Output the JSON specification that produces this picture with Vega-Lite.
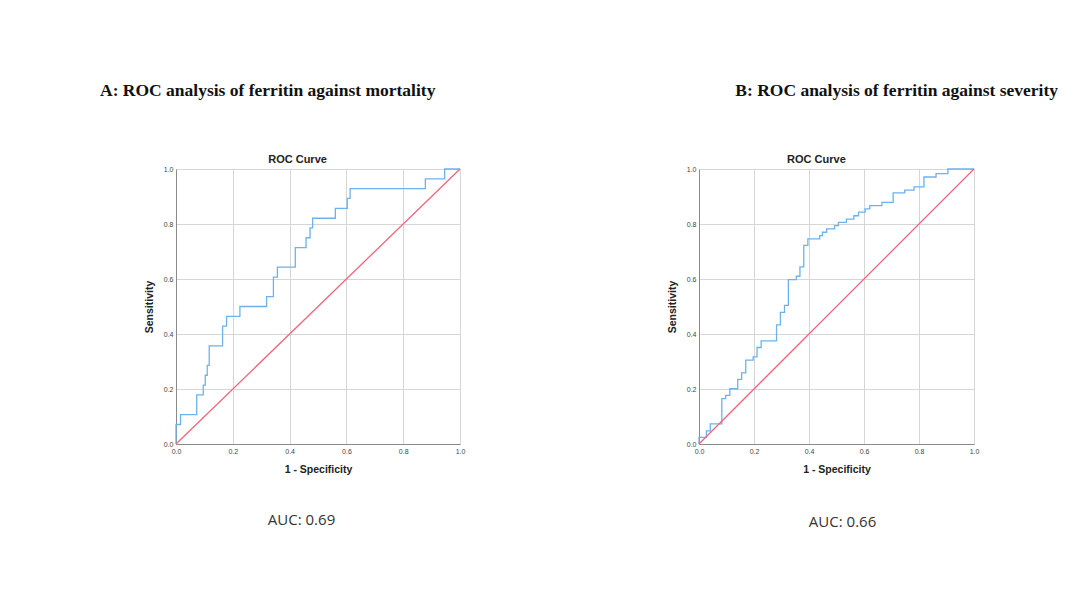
{
  "$schema": "https://vega.github.io/schema/vega-lite/v6.json",
  "autosize": {"type": "pad"},
  "padding": {"left": 100, "top": 81, "right": 0, "bottom": 0},
  "background": "white",
  "bounds": "flush",
  "spacing": 239,
  "datasets": {
    "curveA": [
      {"x": 0, "y": 0}, {"x": 0, "y": 0.071}, {"x": 0.016, "y": 0.107}, {"x": 0.073, "y": 0.179},
      {"x": 0.096, "y": 0.214}, {"x": 0.103, "y": 0.25}, {"x": 0.11, "y": 0.286}, {"x": 0.117, "y": 0.357},
      {"x": 0.164, "y": 0.429}, {"x": 0.178, "y": 0.464}, {"x": 0.225, "y": 0.5}, {"x": 0.319, "y": 0.536},
      {"x": 0.343, "y": 0.607}, {"x": 0.357, "y": 0.643}, {"x": 0.42, "y": 0.714}, {"x": 0.458, "y": 0.75},
      {"x": 0.472, "y": 0.786}, {"x": 0.481, "y": 0.821}, {"x": 0.561, "y": 0.857}, {"x": 0.603, "y": 0.893},
      {"x": 0.613, "y": 0.929}, {"x": 0.878, "y": 0.964}, {"x": 0.946, "y": 1.0}, {"x": 1.0, "y": 1.0}
    ],
    "curveB": [
      {"x": 0, "y": 0}, {"x": 0, "y": 0.024}, {"x": 0.027, "y": 0.048}, {"x": 0.041, "y": 0.073},
      {"x": 0.083, "y": 0.165}, {"x": 0.097, "y": 0.177}, {"x": 0.112, "y": 0.201}, {"x": 0.141, "y": 0.235},
      {"x": 0.155, "y": 0.259}, {"x": 0.17, "y": 0.305}, {"x": 0.197, "y": 0.317}, {"x": 0.211, "y": 0.351},
      {"x": 0.226, "y": 0.375}, {"x": 0.282, "y": 0.433}, {"x": 0.296, "y": 0.479}, {"x": 0.311, "y": 0.504},
      {"x": 0.325, "y": 0.598}, {"x": 0.354, "y": 0.61}, {"x": 0.367, "y": 0.644}, {"x": 0.381, "y": 0.722},
      {"x": 0.396, "y": 0.746}, {"x": 0.439, "y": 0.758}, {"x": 0.449, "y": 0.77}, {"x": 0.464, "y": 0.782},
      {"x": 0.493, "y": 0.794}, {"x": 0.507, "y": 0.806}, {"x": 0.536, "y": 0.818}, {"x": 0.563, "y": 0.83},
      {"x": 0.58, "y": 0.843}, {"x": 0.604, "y": 0.855}, {"x": 0.621, "y": 0.867}, {"x": 0.665, "y": 0.879},
      {"x": 0.706, "y": 0.913}, {"x": 0.748, "y": 0.923}, {"x": 0.782, "y": 0.935}, {"x": 0.818, "y": 0.971},
      {"x": 0.862, "y": 0.983}, {"x": 0.905, "y": 1.0}, {"x": 1.0, "y": 1.0}
    ],
    "diag": [{"x": 0, "y": 0}, {"x": 1, "y": 1}]
  },
  "config": {
    "view": {"stroke": null},
    "axis": {
      "labelFont": "Liberation Sans", "labelFontSize": 7, "labelColor": "#444",
      "titleFont": "Liberation Sans", "titleFontSize": 10.5, "titleFontWeight": "bold", "titleColor": "#222",
      "domainColor": "#8a8a8a", "gridColor": "#d6d6d6", "gridWidth": 1, "ticks": false,
      "labelPadding": 3, "labelFlush": false, "labelOverlap": false
    },
    "axisX": {"titlePadding": 10},
    "axisY": {"titlePadding": 9, "labelAngle": 0}
  },
  "hconcat": [
    {
      "width": 284, "height": 275,
      "title": {"text": "A: ROC analysis of ferritin against mortality", "anchor": "start", "frame": "group", "dx": -76, "offset": 54.7, "font": "Liberation Serif", "fontSize": 17.5, "fontWeight": "bold", "color": "#111"},
      "layer": [
        {
          "data": {"name": "curveA"},
          "mark": {"type": "line", "interpolate": "step-after", "color": "#6cb2ee", "strokeWidth": 1.3},
          "encoding": {
            "x": {"field": "x", "type": "quantitative", "scale": {"domain": [0, 1], "nice": false}, "title": "1 - Specificity", "axis": {"values": [0, 0.2, 0.4, 0.6, 0.8, 1.0], "format": ".1f"}},
            "y": {"field": "y", "type": "quantitative", "scale": {"domain": [0, 1], "nice": false}, "title": "Sensitivity", "axis": {"values": [0, 0.2, 0.4, 0.6, 0.8, 1.0], "format": ".1f"}},
            "order": [{"field": "x"}, {"field": "y"}]
          }
        },
        {
          "data": {"name": "diag"},
          "mark": {"type": "line", "color": "#f2657d", "strokeWidth": 1.3},
          "encoding": {"x": {"field": "x", "type": "quantitative"}, "y": {"field": "y", "type": "quantitative"}}
        },
        {
          "data": {"values": [{"t": "ROC Curve"}]},
          "mark": {"type": "text", "font": "Liberation Sans", "fontSize": 11, "fontWeight": "bold", "color": "#222", "baseline": "middle", "dy": -9},
          "encoding": {"text": {"field": "t"}, "x": {"datum": 0.428}, "y": {"datum": 1}}
        },
        {
          "data": {"values": [{"t": "AUC: 0.69"}]},
          "mark": {"type": "text", "font": "Open Sans", "fontSize": 15, "color": "#333", "baseline": "middle", "dy": 76},
          "encoding": {"text": {"field": "t"}, "x": {"datum": 0.442}, "y": {"datum": 0}}
        }
      ]
    },
    {
      "width": 275, "height": 275,
      "title": {"text": "B: ROC analysis of ferritin against severity", "anchor": "end", "frame": "group", "dx": 84, "offset": 54.7, "font": "Liberation Serif", "fontSize": 17.5, "fontWeight": "bold", "color": "#111"},
      "layer": [
        {
          "data": {"name": "curveB"},
          "mark": {"type": "line", "interpolate": "step-after", "color": "#6cb2ee", "strokeWidth": 1.3},
          "encoding": {
            "x": {"field": "x", "type": "quantitative", "scale": {"domain": [0, 1], "nice": false}, "title": "1 - Specificity", "axis": {"values": [0, 0.2, 0.4, 0.6, 0.8, 1.0], "format": ".1f"}},
            "y": {"field": "y", "type": "quantitative", "scale": {"domain": [0, 1], "nice": false}, "title": "Sensitivity", "axis": {"values": [0, 0.2, 0.4, 0.6, 0.8, 1.0], "format": ".1f"}},
            "order": [{"field": "x"}, {"field": "y"}]
          }
        },
        {
          "data": {"name": "diag"},
          "mark": {"type": "line", "color": "#f2657d", "strokeWidth": 1.3},
          "encoding": {"x": {"field": "x", "type": "quantitative"}, "y": {"field": "y", "type": "quantitative"}}
        },
        {
          "data": {"values": [{"t": "ROC Curve"}]},
          "mark": {"type": "text", "font": "Liberation Sans", "fontSize": 11, "fontWeight": "bold", "color": "#222", "baseline": "middle", "dy": -9},
          "encoding": {"text": {"field": "t"}, "x": {"datum": 0.427}, "y": {"datum": 1}}
        },
        {
          "data": {"values": [{"t": "AUC: 0.66"}]},
          "mark": {"type": "text", "font": "Open Sans", "fontSize": 15, "color": "#333", "baseline": "middle", "dy": 78},
          "encoding": {"text": {"field": "t"}, "x": {"datum": 0.522}, "y": {"datum": 0}}
        }
      ]
    }
  ]
}
